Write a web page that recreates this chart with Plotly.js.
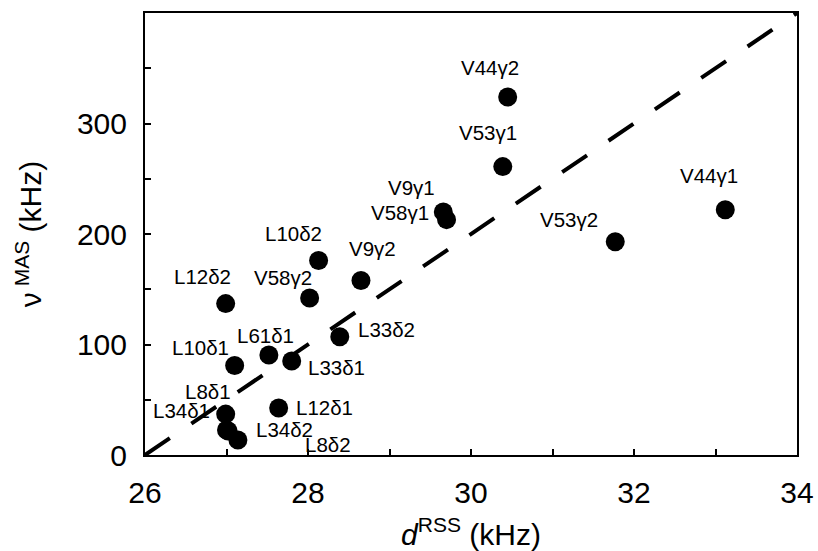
<!DOCTYPE html>
<html>
<head>
<meta charset="utf-8">
<script src="https://cdn.plot.ly/plotly-3.0.1.min.js"></script>
<style>html,body{margin:0;padding:0;background:#fff;}#chart{width:818px;height:551px;}</style>
</head>
<body>
<div id="chart"></div>
<script>
// Data
const labels = ["V44γ2","V53γ1","V9γ1","V58γ1","V44γ1","V53γ2","L10δ2","V9γ2","L12δ2","V58γ2",
                "L10δ1","L61δ1","L33δ1","L33δ2","L8δ1","L34δ1","L34δ2","L8δ2","L12δ1"];
const dRSS = [30.45,30.39,29.66,29.70,33.12,31.77,28.13,28.65,26.99,28.02,
              27.10,27.52,27.80,28.39,26.99,27.00,27.02,27.14,27.64];
const vMAS = [324,261,220,213,222,193,176,158,137,142,
              81,90.5,85,107,37,22.6,21.7,13.6,42.5];
const fitX = [26,34];
const fitY = [0,400];
const xTitle = "<i>d</i><sup>RSS</sup> (kHz)";
// trailing no-break spaces push the visible title a little below the axis centre, as in the reference
const yTitle = "ν<sup> MAS</sup> (kHz)" + "\u00A0\u00A0\u00A0\u00A0\u00A0";

// Label placement (pixel offsets from each point: [dx, dy up])
const labelShift = {
  "V44γ2":[-18,29],"V53γ1":[-15,34],"V9γ1":[-32,24],"V58γ1":[-47,7],"V44γ1":[-16,34],
  "V53γ2":[-46,22],"L10δ2":[-25,27],"V9γ2":[12,32],"L12δ2":[-23,27],"V58γ2":[-27,21],
  "L10δ1":[-34,18],"L61δ1":[-3,20],"L33δ1":[45,-6],"L33δ2":[47,7],"L8δ1":[-18,23],
  "L34δ1":[-45,20],"L34δ2":[56,2],"L8δ2":[90,-5],"L12δ1":[46,1]
};

const font = "Arial, 'Liberation Sans', sans-serif";

const traces = [
  {x: fitX, y: fitY, mode: "lines", type: "scatter",
   line: {color: "#000", width: 4, dash: "30px,26px"}, hoverinfo: "skip"},
  {x: dRSS, y: vMAS, mode: "markers", type: "scatter", text: labels,
   marker: {color: "#000", size: 19}}
];

const annotations = labels.map((t, i) => ({
  x: dRSS[i], y: vMAS[i], xref: "x", yref: "y", text: t, showarrow: false,
  xanchor: "center", yanchor: "middle",
  xshift: labelShift[t][0], yshift: labelShift[t][1],
  font: {family: font, size: 20.5, color: "#000"}
}));

const layout = {
  width: 818, height: 551,
  margin: {l: 145, r: 21, t: 13, b: 96},
  paper_bgcolor: "#fff", plot_bgcolor: "#fff",
  showlegend: false,
  font: {family: font, color: "#000"},
  xaxis: {
    range: [26, 34], dtick: 2, tick0: 26, ticks: "inside", ticklen: 6, tickwidth: 2, tickcolor: "#000",
    minor: {dtick: 1, ticks: "inside", ticklen: 6, tickwidth: 2, tickcolor: "#000", showgrid: false},
    showline: true, linewidth: 2, linecolor: "#000", mirror: true, showgrid: false, zeroline: false,
    tickfont: {family: font, size: 30, color: "#000"}, ticklabelstandoff: 10,
    title: {text: xTitle, font: {family: font, size: 30, color: "#000"}, standoff: 16}
  },
  yaxis: {
    range: [0, 400], tickvals: [0,100,200,300], ticks: "inside", ticklen: 6, tickwidth: 2, tickcolor: "#000",
    minor: {tickvals: [50,150,250,350], ticks: "inside", ticklen: 6, tickwidth: 2, tickcolor: "#000", showgrid: false},
    showline: true, linewidth: 2, linecolor: "#000", mirror: true, showgrid: false, zeroline: false,
    tickfont: {family: font, size: 30, color: "#000"}, ticklabelstandoff: 10,
    title: {text: yTitle, font: {family: font, size: 30, color: "#000"}, standoff: 26}
  },
  annotations: annotations
};

Plotly.newPlot("chart", traces, layout, {displayModeBar: false, staticPlot: true});
</script>
</body>
</html>
